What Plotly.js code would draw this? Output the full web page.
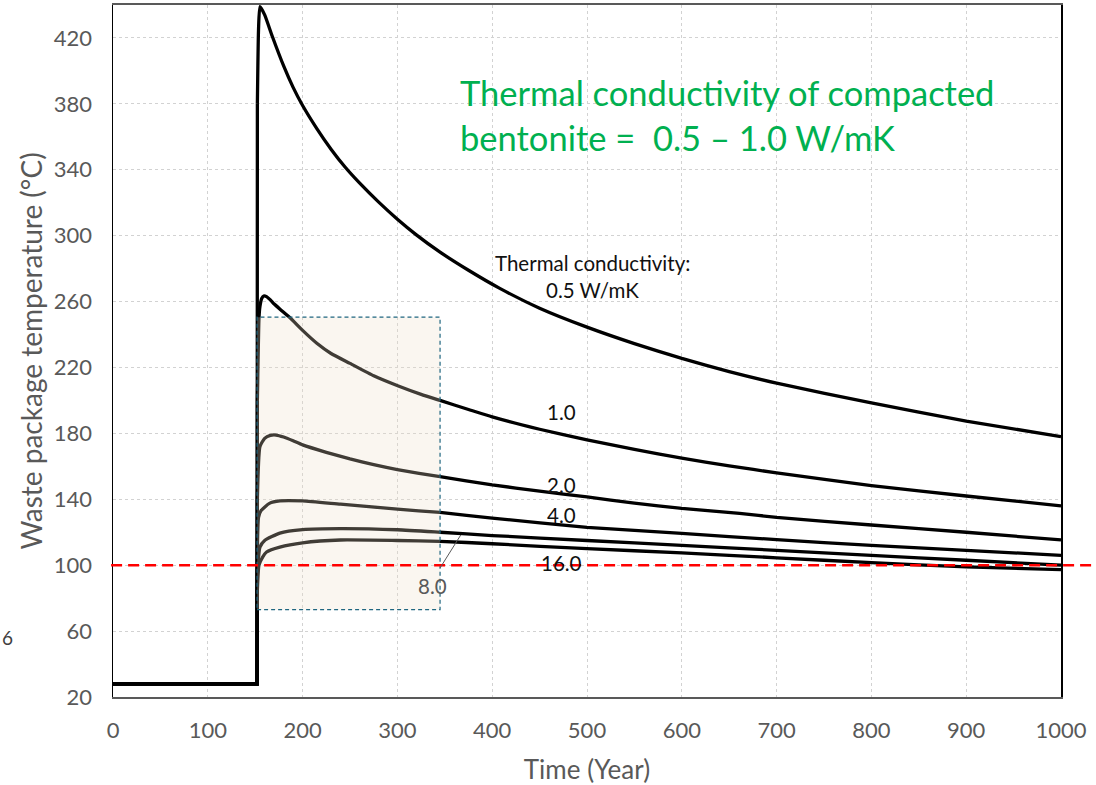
<!DOCTYPE html>
<html>
<head>
<meta charset="utf-8">
<script src="https://cdn.plot.ly/plotly-3.0.1.min.js"></script>
<style>html,body{margin:0;padding:0;background:#fff;}#chart{width:1096px;height:785px;}</style>
</head>
<body>
<div id="chart"></div>
<script>
// Time in years, temperature in °C, one pair of arrays per thermal conductivity (W/mK)
const t05 = [0,152,152.3,153.5,155,160,168,180,190,200,215,230,245,260,280,300,320,345,375,408,450,500,550,600,650,700,800,900,1000];
const T05 = [28,28,380,425,439,434,421,403,390,379,365,352.5,341.5,332,320.5,310,300.5,290,279,268,256,244.5,234.5,225.5,217.5,210.5,198.5,187.5,178];

const t10 = [0,152,152.3,154,155,157,159,162,166,170,178,187,200,215,230,250,275,301,325,345,375,400,450,500,550,600,650,700,800,900,1000];
const T10 = [28,28,200,250,257,262,263.4,263,261,258.5,254.5,250,242.5,234.7,228.5,222.5,215,208.8,203.7,200,194.5,190,182.5,176,170.3,165,160.3,156,148.3,142,136];

const t20 = [0,152,152.3,155,160,166,172,180,190,200,225,250,275,300,345,400,450,500,550,600,661,700,800,900,1000];
const T20 = [28,28,140,172,177,178.8,179,177.8,175.5,173,168.5,164.5,161,158,153.7,148.7,145,141.4,137.7,134.5,131.5,129,124.4,120,115.3];

const t40 = [0,152,152.3,153.5,156,165,176,200,240,300,345,400,500,600,700,800,900,1000];
const T40 = [28,28,110,129,133,137.5,139,139,137,134,132,128.6,123,119.3,115.5,112,109,106];

const t80 = [0,152,152.3,155,160,176,200,240,300,345,400,500,600,700,800,900,1000];
const T80 = [28,28,95,111,115,119.5,121.6,122.2,121.5,120,118,115,112,109,106,103,100];

const t160 = [0,152,152.3,154,158,162,176,200,240,300,345,400,500,600,700,800,900,1000];
const T160 = [28,28,85,100,105,108,111,113.6,115.3,115,114.5,113,110,107.5,104.5,101.5,99,97.3];

const seriesNames = ['0.5','1.0','2.0','4.0','8.0','16.0'];
const xTicks = [0,100,200,300,400,500,600,700,800,900,1000];
const yTicks = [20,60,100,140,180,220,260,300,340,380,420];

// Label positions (data coords)
const curveLabels = [
  {text:'Thermal conductivity:', x:506, y:283.4},
  {text:'0.5 W/mK', x:506, y:267},
  {text:'1.0', x:472.6, y:193},
  {text:'2.0', x:473.6, y:148.7},
  {text:'4.0', x:473.6, y:130.5},
  {text:'16.0', x:473.6, y:101.3}
];

const xs = [t05,t10,t20,t40,t80,t160];
const ys = [T05,T10,T20,T40,T80,T160];

// Each series: step-up part drawn straight, decay part drawn smoothed
const traces = [];
xs.forEach((x,i)=>{
  traces.push({
    x:x.slice(0,3), y:ys[i].slice(0,3), type:'scatter', mode:'lines', name:seriesNames[i],
    line:{color:'#000000', width:3.3}, hoverinfo:'skip'
  });
  traces.push({
    x:x.slice(2), y:ys[i].slice(2), type:'scatter', mode:'lines', name:seriesNames[i],
    line:{color:'#000000', width:3.3, shape:'spline', smoothing:0.5}, hoverinfo:'skip'
  });
});

const F = 'Lato, "Open Sans", sans-serif';
const annotations = curveLabels.map(l=>({
  x:l.x, y:l.y, xref:'x', yref:'y', text:l.text, showarrow:false,
  font:{family:F, size:20.5, color:'#111111'}, xanchor:'center', yanchor:'middle'
}));
annotations.push({x:336.5, y:87.4, xref:'x', yref:'y', text:'8.0', showarrow:false,
  font:{family:F, size:20.5, color:'#595959'}, xanchor:'center', yanchor:'middle'});
annotations.push({x:364, y:386.6, xref:'x', yref:'y', text:'Thermal conductivity of compacted', showarrow:false,
  font:{family:F, size:34.5, color:'#00b050'}, xanchor:'left', yanchor:'middle'});
annotations.push({x:364, y:359.3, xref:'x', yref:'y', text:'bentonite =  0.5 \u2013 1.0 W/mK', showarrow:false,
  font:{family:F, size:34.5, color:'#00b050'}, xanchor:'left', yanchor:'middle'});
annotations.push({x:-0.1192, y:56.4, xref:'paper', yref:'y', text:'6', showarrow:false,
  font:{family:F, size:19, color:'#404040'}, xanchor:'left', yanchor:'middle'});

const shapes = [
  {type:'rect', xref:'x', yref:'y', x0:152, x1:345, y0:73, y1:250.5,
   fillcolor:'rgb(237,222,199)', opacity:0.27, line:{width:0}, layer:'above'},
  {type:'rect', xref:'x', yref:'y', x0:152, x1:345, y0:73, y1:250.5,
   fillcolor:'rgba(0,0,0,0)', line:{color:'#1f6680', width:1.2, dash:'4px,3px'}, layer:'above'},
  {type:'line', xref:'paper', yref:'y', x0:-0.002, x1:1.04, y0:100, y1:100,
   line:{color:'#ff0000', width:2.6, dash:'11px,6px'}, layer:'above'},
  {type:'line', xref:'x', yref:'y', x0:345, y0:98.3, x1:366.8, y1:118.3,
   line:{color:'#595959', width:1}, layer:'above'}
];

const layout = {
  width:1096, height:785,
  margin:{l:113, r:35, t:5, b:88},
  paper_bgcolor:'#ffffff', plot_bgcolor:'#ffffff',
  showlegend:false,
  font:{family:F, color:'#595959'},
  xaxis:{
    range:[0,1000], tickvals:xTicks, ticktext:xTicks.map(String),
    showgrid:true, gridcolor:'#d2d2d2', griddash:'dot', gridwidth:1,
    zeroline:false, showline:true, linecolor:'#595959', linewidth:2, mirror:true,
    ticks:'outside', ticklen:13, tickcolor:'rgba(0,0,0,0)',
    tickfont:{family:F, size:22, color:'#595959'},
    title:{text:'Time (Year)', font:{family:F, size:26, color:'#595959'}, standoff:20}
  },
  yaxis:{
    range:[20,440], tickvals:yTicks, ticktext:yTicks.map(String),
    showgrid:true, gridcolor:'#d2d2d2', griddash:'dot', gridwidth:1,
    zeroline:false, showline:true, linecolor:'#000000', linewidth:1.5, mirror:true,
    ticks:'outside', ticklen:15, tickcolor:'rgba(0,0,0,0)',
    tickfont:{family:F, size:22, color:'#595959'},
    title:{text:'Waste package temperature (\u00B0C)', font:{family:F, size:28, color:'#595959'}, standoff:3}
  },
  shapes:shapes,
  annotations:annotations
};

Plotly.newPlot('chart', traces, layout, {staticPlot:true, displayModeBar:false});
</script>
</body>
</html>
